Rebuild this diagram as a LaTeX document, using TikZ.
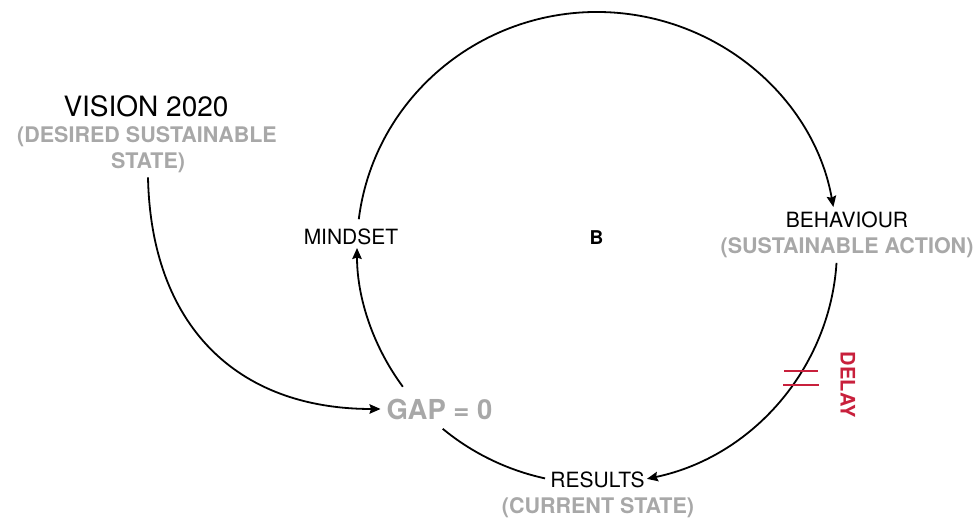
\documentclass[tikz,border=0pt]{standalone}
\usepackage{fontspec}
\setmainfont{TeX Gyre Heros}
\usetikzlibrary{arrows.meta}
\definecolor{softgray}{RGB}{168,168,168}
\definecolor{delayred}{RGB}{200,32,60}
\begin{document}
\begin{tikzpicture}[x=1pt,y=-1pt,
  every node/.style={inner sep=0pt, outer sep=0pt},
  headtext/.style={font=\fontsize{21}{21}\selectfont, anchor=base},
  subtext/.style={font=\fontsize{21.5}{21.5}\selectfont\bfseries, text=softgray, anchor=base},
  flowarrow/.style={line width=1.8pt, -{Stealth[length=11pt,width=9.5pt,inset=1.5pt]}},
  flowline/.style={line width=1.8pt},
  delaystroke/.style={draw=delayred, line width=2.8pt},
  ]
\useasboundingbox (0,0) rectangle (979,523);

% labels
\node[headtext, font=\fontsize{28}{28}\selectfont] (vision) at (146,116) {VISION 2020};
\node[subtext] (visionnote) at (147,142) {(DESIRED SUSTAINABLE};
\node[subtext] (visionstate) at (148,168) {STATE)};
\node[headtext] (mindset) at (351,244) {MINDSET};
\node[headtext, font=\fontsize{19}{19}\selectfont\bfseries] (loop) at (596.5,244) {B};
\node[headtext] (behaviour) at (847,227) {BEHAVIOUR};
\node[subtext] (action) at (847,253) {(SUSTAINABLE ACTION)};
\node[subtext, font=\fontsize{27.5}{27.5}\selectfont\bfseries] (gap) at (439.5,419) {GAP = 0};
\node[headtext] (results) at (597.5,487) {RESULTS};
\node[subtext] (state) at (598,513) {(CURRENT STATE)};
\node[subtext, text=delayred, font=\fontsize{20}{20}\selectfont\bfseries, anchor=center, rotate=-90] (delay) at (848,385) {DELAY};

% balancing loop, drawn as arcs of one ellipse around the hub
\coordinate (hub) at (597,248);
\path (hub) ++(187:240 and 236) coordinate (mindset-out);
\path (hub) ++(3.6:240 and 236) coordinate (behaviour-out);
\path (hub) ++(102.5:240 and 236) coordinate (results-out);
\path (hub) ++(144:240 and 236) coordinate (gap-out);

\draw[flowarrow] (mindset-out) arc[start angle=187, end angle=350, x radius=240, y radius=236];
\draw[flowarrow] (behaviour-out) arc[start angle=3.6, end angle=78, x radius=240, y radius=236];
\draw[flowline] (results-out) arc[start angle=102.5, end angle=130, x radius=240, y radius=236];
\draw[flowarrow] (gap-out) arc[start angle=144, end angle=180, x radius=240, y radius=236];

% vision feeds the gap
\draw[flowarrow] ([yshift=-5pt]visionstate.south) .. controls +(3,147) and +(-145,0) .. ([xshift=-6pt]gap.west);

% delay marker across the loop
\coordinate (delaymark) at (801,378);
\draw[delaystroke] ([shift={(-17,-7)}]delaymark) -- ++(34,0);
\draw[delaystroke] ([shift={(-18,7)}]delaymark) -- ++(36,0);
\end{tikzpicture}
\end{document}
